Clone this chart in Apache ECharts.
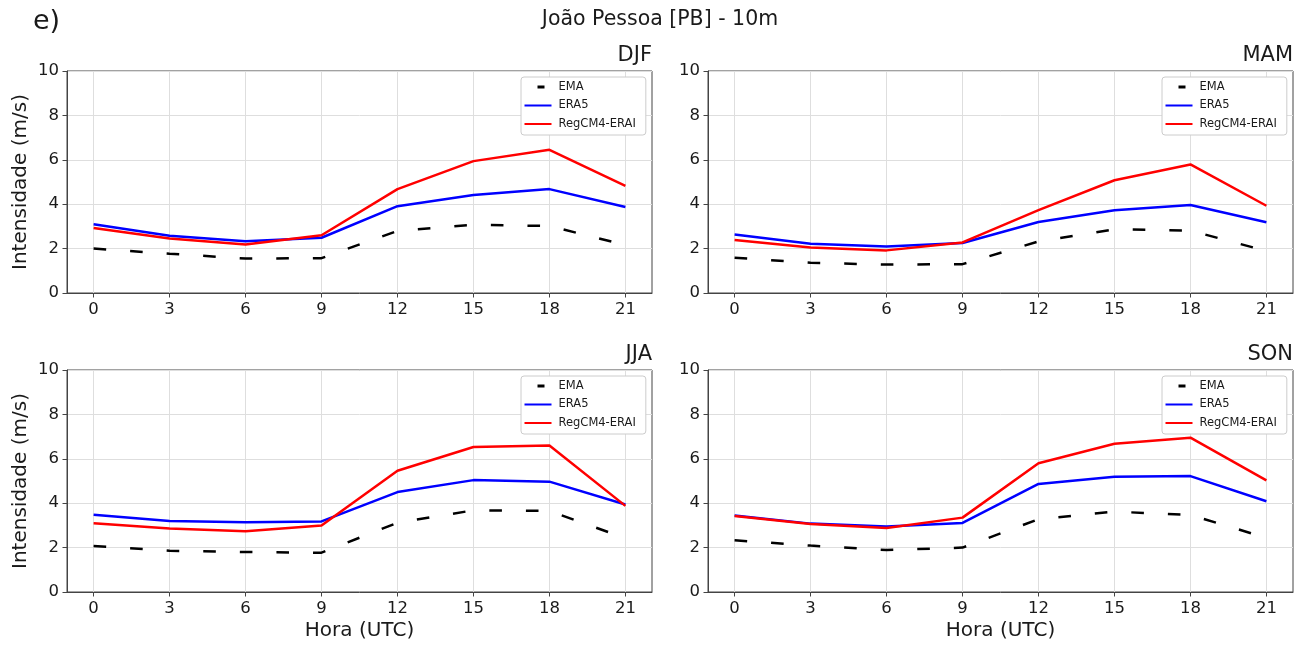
<!DOCTYPE html>
<html>
<head>
<meta charset="utf-8">
<script src="https://cdn.jsdelivr.net/npm/echarts@6/dist/echarts.min.js"></script>
<style>
  html, body { margin: 0; padding: 0; background: #fff; }
  #chart { width: 1308px; height: 650px; }
</style>
</head>
<body>
<div id="chart"></div>
<script>
// Hour of day (UTC) and tick labels
const hours = [0, 3, 6, 9, 12, 15, 18, 21];
const hourTicks = [0, 3, 6, 9, 12, 15, 18, 21];
const speedTicks = [0, 2, 4, 6, 8, 10];

const seasons = ['DJF', 'MAM', 'JJA', 'SON'];
const seriesNames = ['EMA', 'ERA5', 'RegCM4-ERAI'];

// Mean wind speed (m/s) per hour, by season
const emaDJF   = [2.00, 1.77, 1.55, 1.57, 2.80, 3.07, 3.02, 2.16];
const era5DJF  = [3.10, 2.58, 2.33, 2.49, 3.91, 4.41, 4.68, 3.87];
const regcmDJF = [2.93, 2.45, 2.18, 2.60, 4.68, 5.94, 6.45, 4.83];

const emaMAM   = [1.59, 1.36, 1.28, 1.30, 2.32, 2.87, 2.81, 1.89];
const era5MAM  = [2.63, 2.22, 2.10, 2.25, 3.20, 3.73, 3.96, 3.19];
const regcmMAM = [2.39, 2.05, 1.92, 2.28, 3.73, 5.08, 5.79, 3.93];

const emaJJA   = [2.07, 1.86, 1.80, 1.77, 3.12, 3.68, 3.65, 2.42];
const era5JJA  = [3.48, 3.20, 3.14, 3.18, 4.50, 5.04, 4.97, 3.94];
const regcmJJA = [3.10, 2.86, 2.74, 3.00, 5.46, 6.53, 6.60, 3.88];

const emaSON   = [2.33, 2.09, 1.89, 2.00, 3.28, 3.62, 3.47, 2.44];
const era5SON  = [3.45, 3.08, 2.95, 3.11, 4.87, 5.19, 5.22, 4.09];
const regcmSON = [3.42, 3.06, 2.88, 3.35, 5.80, 6.68, 6.95, 5.03];

const seasonData = [
  [emaDJF, era5DJF, regcmDJF],
  [emaMAM, era5MAM, regcmMAM],
  [emaJJA, era5JJA, regcmJJA],
  [emaSON, era5SON, regcmSON]
];

const FONT = 'DejaVu Sans';
const INK = '#1a1a1a';
const FRAME = '#444';
const GRIDLINE = '#dedede';

// Panel boxes (px): 2 x 2 layout
const panelLeft = [67, 708, 67, 708];
const panelTop = [71, 71, 370, 370];
const panelW = 585;
const panelH = 222;

const lineStyles = [
  { color: '#000000', width: 2.5, type: [12.6, 24] },
  { color: '#0000ff', width: 2.5, type: 'solid' },
  { color: '#ff0000', width: 2.5, type: 'solid' }
];

const grids = [], xAxes = [], yAxes = [], series = [], legends = [], titles = [];

titles.push({
  text: 'João Pessoa [PB] - 10m',
  left: 660, top: 9, padding: 0, textAlign: 'center',
  textStyle: { fontFamily: FONT, fontSize: 20.5, fontWeight: 'normal', color: INK }
});
titles.push({
  text: 'e)',
  left: 33, top: 8, padding: 0,
  textStyle: { fontFamily: FONT, fontSize: 27, fontWeight: 'normal', color: INK }
});

for (let p = 0; p < 4; p++) {
  const isLeft = p % 2 === 0;
  const isBottom = p >= 2;

  grids.push({
    left: panelLeft[p], top: panelTop[p], width: panelW, height: panelH,
    show: true, borderColor: FRAME, borderWidth: 1, backgroundColor: 'transparent'
  });

  xAxes.push({
    type: 'value', gridIndex: p,
    min: -1.05, max: 22.05,
    name: isBottom ? 'Hora (UTC)' : '',
    nameLocation: 'middle', nameGap: 29,
    nameTextStyle: { fontFamily: FONT, fontSize: 20, color: INK },
    axisLine: { show: true, onZero: false, lineStyle: { color: FRAME, width: 1 } },
    axisTick: { show: true, length: 4.5, lineStyle: { color: FRAME }, customValues: hourTicks },
    axisLabel: { fontFamily: FONT, fontSize: 16.5, color: INK, margin: 8, customValues: hourTicks },
    splitLine: { show: true, lineStyle: { color: GRIDLINE, width: 1 } }
  });

  yAxes.push({
    type: 'value', gridIndex: p,
    min: speedTicks[0], max: speedTicks[speedTicks.length - 1], interval: 2,
    name: isLeft ? 'Intensidade (m/s)' : '',
    nameLocation: 'middle', nameGap: 36, nameRotate: 90,
    nameTextStyle: { fontFamily: FONT, fontSize: 20, color: INK },
    axisLine: { show: true, onZero: false, lineStyle: { color: FRAME, width: 1 } },
    axisTick: { show: true, length: 4.5, lineStyle: { color: FRAME } },
    axisLabel: { fontFamily: FONT, fontSize: 16.5, color: INK, margin: 8 },
    splitLine: { show: true, lineStyle: { color: GRIDLINE, width: 1 } }
  });

  titles.push({
    text: seasons[p],
    left: panelLeft[p] + panelW, top: panelTop[p] - 26, padding: 0, textAlign: 'right',
    textStyle: { fontFamily: FONT, fontSize: 21, fontWeight: 'normal', color: INK }
  });

  for (let s = 0; s < 3; s++) {
    series.push({
      type: 'line', name: seriesNames[s],
      xAxisIndex: p, yAxisIndex: p,
      data: hours.map((h, i) => [h, seasonData[p][s][i]]),
      symbol: 'none', showSymbol: false,
      lineStyle: lineStyles[s],
      itemStyle: { color: lineStyles[s].color },
      z: 2 + s, animation: false
    });
  }

  legends.push({
    orient: 'vertical',
    left: panelLeft[p] + 454, top: panelTop[p] + 6,
    padding: [4, 10, 5, 2],
    itemWidth: 27, itemHeight: 14, itemGap: 6.5,
    backgroundColor: '#fff', borderColor: '#cccccc', borderWidth: 1, borderRadius: 3,
    selectedMode: false,
    itemStyle: { opacity: 0 },
    textStyle: { fontFamily: FONT, fontSize: 11.5, color: INK, padding: [0, 0, 0, 2] },
    data: [
      { name: 'EMA', lineStyle: { type: [7, 40], dashOffset: 34, width: 3 } },
      { name: 'ERA5' },
      { name: 'RegCM4-ERAI' }
    ]
  });
}

const chart = echarts.init(document.getElementById('chart'), null, { renderer: 'canvas' });
chart.setOption({
  animation: false,
  backgroundColor: '#ffffff',
  title: titles,
  grid: grids,
  xAxis: xAxes,
  yAxis: yAxes,
  legend: legends,
  series: series
});
</script>
</body>
</html>
